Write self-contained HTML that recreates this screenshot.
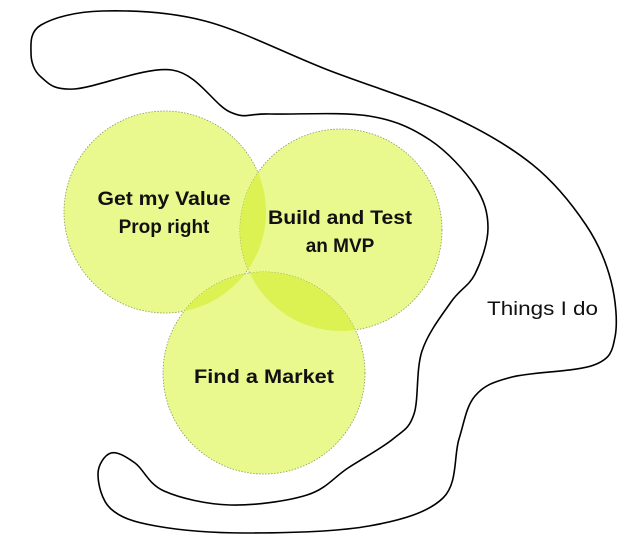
<!DOCTYPE html>
<html><head><meta charset="utf-8"><style>
html,body{margin:0;padding:0;background:#fff;width:641px;height:551px;overflow:hidden}
svg{display:block}
text{font-family:"Liberation Sans",sans-serif;font-size:19px;fill:#111}
</style></head><body>
<svg width="641" height="551" viewBox="0 0 641 551" xmlns="http://www.w3.org/2000/svg">
<defs>
<clipPath id="cL"><circle cx="165" cy="212" r="101"/></clipPath>
<clipPath id="cR"><circle cx="341" cy="230" r="101"/></clipPath>
</defs>
<path id="blob" fill="none" stroke="#000" stroke-width="1.6" d=""/>
<g stroke="#8a9a55" stroke-width="0.8" stroke-dasharray="1.5 1.5">
<circle cx="165" cy="212" r="101" fill="#e9f98e"/>
<circle cx="341" cy="230" r="101" fill="#e9f98e"/>
<circle cx="264" cy="373" r="101" fill="#e9f98e"/>
</g>
<g fill="#dcf152" stroke="none">
<circle cx="341" cy="230" r="101" clip-path="url(#cL)"/>
<circle cx="264" cy="373" r="101" clip-path="url(#cL)"/>
<circle cx="264" cy="373" r="101" clip-path="url(#cR)"/>
</g>
<text x="164" y="205" text-anchor="middle" font-weight="bold" textLength="133" lengthAdjust="spacingAndGlyphs">Get my Value</text>
<text x="164" y="233" text-anchor="middle" font-weight="bold">Prop right</text>
<text x="340" y="224" text-anchor="middle" font-weight="bold" textLength="144" lengthAdjust="spacingAndGlyphs">Build and Test</text>
<text x="340" y="252" text-anchor="middle" font-weight="bold">an MVP</text>
<text x="264" y="383" text-anchor="middle" font-weight="bold" textLength="140" lengthAdjust="spacingAndGlyphs">Find a Market</text>
<text x="487" y="315" textLength="111" lengthAdjust="spacingAndGlyphs">Things I do</text>
</svg>
<script>
var p=[[74,89],[172,70],[230,112],[270,114],[369,116],[430,140],[475,186],[488,228],[475,274],[451,302],[422,351],[414,414],[393,439],[348,468],[307,495],[230,505],[164,491],[135,463],[111,453],[98,474],[111,509],[156,526],[246,533],[369,526],[443,498],[459,439],[475,396],[512,377],[594,365],[615,337],[611,281],[586,225],[533,165],[451,116],[328,70],[205,21],[102,11],[41,25],[31,53],[41,77]];
var n=p.length,d="M"+p[0][0]+","+p[0][1];
for(var i=0;i<n;i++){var a=p[(i-1+n)%n],b=p[i],c=p[(i+1)%n],e=p[(i+2)%n];
d+=" C"+(b[0]+(c[0]-a[0])/6)+","+(b[1]+(c[1]-a[1])/6)+" "+(c[0]-(e[0]-b[0])/6)+","+(c[1]-(e[1]-b[1])/6)+" "+c[0]+","+c[1];}
document.getElementById("blob").setAttribute("d",d+"Z");
</script>
</body></html>
